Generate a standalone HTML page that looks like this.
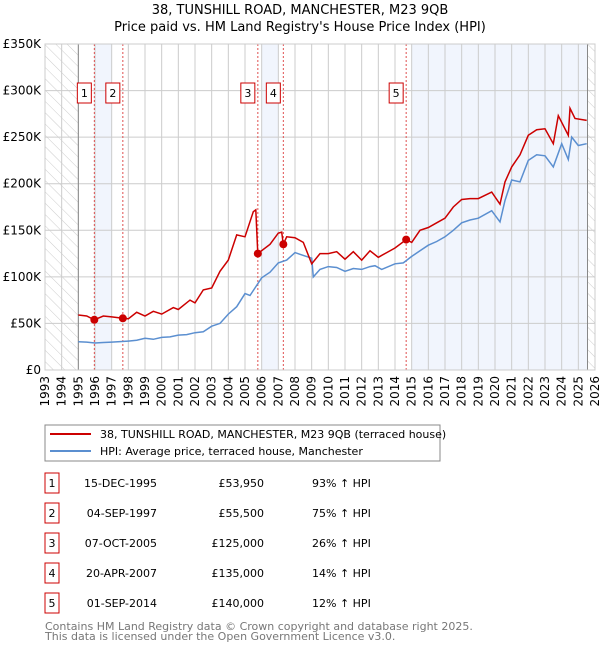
<!DOCTYPE html>
<html><head><meta charset="utf-8">
<style>
body{margin:0;background:#fff;font-family:"DejaVu Sans","Liberation Sans",sans-serif;}
svg text{font-family:"DejaVu Sans","Liberation Sans",sans-serif;}
</style></head>
<body>
<svg id="c" width="600" height="650" xmlns="http://www.w3.org/2000/svg">
<defs>
<pattern id="hatch" width="8" height="8" patternUnits="userSpaceOnUse" patternTransform="rotate(-45)">
<line x1="0" y1="0" x2="0" y2="8" stroke="#ccc" stroke-width="1"/>
</pattern>
</defs>
<text x="300" y="14" text-anchor="middle" font-size="13">38, TUNSHILL ROAD, MANCHESTER, M23 9QB</text>
<text x="300" y="31" text-anchor="middle" font-size="13">Price paid vs. HM Land Registry's House Price Index (HPI)</text>
<g id="plot"></g>
<rect x="45" y="425" width="395" height="36" fill="#fff" stroke="#888"/>
<line x1="50" y1="434" x2="91" y2="434" stroke="#cc0000" stroke-width="2"/>
<text x="100" y="438" font-size="11">38, TUNSHILL ROAD, MANCHESTER, M23 9QB (terraced house)</text>
<line x1="50" y1="451" x2="91" y2="451" stroke="#5b8fd0" stroke-width="2"/>
<text x="100" y="455" font-size="11">HPI: Average price, terraced house, Manchester</text>
<g id="table"></g>
<text x="45" y="630" font-size="11" fill="#777">Contains HM Land Registry data © Crown copyright and database right 2025.</text>
<text x="45" y="640" font-size="11" fill="#777">This data is licensed under the Open Government Licence v3.0.</text>
</svg>
<script>
const hpiYears=[1995,1995.5,1996,1996.5,1997,1997.5,1998,1998.5,1999,1999.5,2000,2000.5,2001,2001.5,2002,2002.5,2003,2003.5,2004,2004.5,2005,2005.3,2006,2006.5,2007,2007.5,2008,2008.5,2009,2009.1,2009.5,2010,2010.5,2011,2011.5,2012,2012.5,2012.8,2013.2,2014,2014.5,2015,2015.5,2016,2016.5,2017,2017.5,2018,2018.5,2019,2019.8,2020.3,2020.6,2021,2021.5,2022,2022.5,2023,2023.5,2024,2024.4,2024.6,2025,2025.5];
const hpiValues=[30.4,30,29,29.5,30,30.5,31,32,34,33,35,35.5,37.5,38,40,41,47,50,60,68,82,80,99,105,115,118,126,123,120,100,108,111,110,106,109,108,111,112,108,114,115,122,128,134,138,143,150,158,161,163,171,159,182,204,202,225,231,230,218,243,226,250,241,243];
const priceYears=[1995,1995.5,1995.96,1996.5,1997,1997.67,1998,1998.5,1999,1999.5,2000,2000.7,2001,2001.7,2002,2002.5,2003,2003.5,2004,2004.5,2005,2005.5,2005.65,2005.77,2006.5,2007,2007.2,2007.3,2007.5,2008,2008.5,2009,2009.5,2010,2010.5,2011,2011.5,2012,2012.5,2013,2013.5,2014,2014.67,2015,2015.5,2016,2016.5,2017,2017.5,2018,2018.5,2019,2019.8,2020.3,2020.6,2021,2021.5,2022,2022.5,2023,2023.5,2023.8,2024.4,2024.5,2024.8,2025.5];
const priceValues=[59,58,53.9,58,57,55.5,55,62,58,63,60,67,65,75,72,86,88,106,118,145,143,170,172,125,135,147,148,135,143,142,137,114,125,125,127,119,127,118,128,121,126,131,140,137,150,153,158,163,175,183,184,184,191,178,202,218,231,252,258,259,243,273,252,281,270,268];
const saleYears=[1995.96,1997.67,2005.77,2007.3,2014.67];
const saleValues=[53.95,55.5,125,135,140];
const saleLabels=["1","2","3","4","5"];
const saleDates=["15-DEC-1995","04-SEP-1997","07-OCT-2005","20-APR-2007","01-SEP-2014"];
const salePrices=["£53,950","£55,500","£125,000","£135,000","£140,000"];
const saleHpi=["93% ↑ HPI","75% ↑ HPI","26% ↑ HPI","14% ↑ HPI","12% ↑ HPI"];
const yTicks=[0,50,100,150,200,250,300,350];
const yTickLabels=["£0","£50K","£100K","£150K","£200K","£250K","£300K","£350K"];
const xTicks=[1993,1994,1995,1996,1997,1998,1999,2000,2001,2002,2003,2004,2005,2006,2007,2008,2009,2010,2011,2012,2013,2014,2015,2016,2017,2018,2019,2020,2021,2022,2023,2024,2025,2026];
const bands=[[1996,1997],[2006,2007],[2015,2025.55]];
const dataEnd=2025.55;

const X0=45,X1=595,Y0=370,Y1=44;
const xs=y=>X0+(y-1993)/(2026-1993)*(X1-X0);
const ys=v=>Y0-v/350*(Y0-Y1);
const NS="http://www.w3.org/2000/svg";
function mk(parent,tag,attrs){const e=document.createElementNS(NS,tag);for(const k in attrs)e.setAttribute(k,attrs[k]);parent.appendChild(e);return e;}
const g=document.getElementById('plot');
let r=mk(g,'rect',{x:X0,y:Y1,width:X1-X0,height:Y0-Y1,fill:'#fff'});


bands.forEach(b=>{const e=mk(g,'rect',{x:xs(b[0]),y:Y1,width:xs(b[1])-xs(b[0]),height:Y0-Y1,fill:'#eef3fc',opacity:0.8});

});
let h1=mk(g,'rect',{x:X0,y:Y1,width:xs(1995)-X0,height:Y0-Y1,fill:'url(#hatch)'});


let h2=mk(g,'rect',{x:xs(dataEnd),y:Y1,width:X1-xs(dataEnd),height:Y0-Y1,fill:'url(#hatch)'});


xTicks.forEach((t,i)=>{const l=mk(g,'line',{x1:xs(t),x2:xs(t),y1:Y1,y2:Y0,stroke:'#ccc','stroke-width':1});


const tx=mk(g,'text',{x:0,y:0,'font-size':12,'text-anchor':'end',transform:`translate(${xs(t)+4},${Y0+6}) rotate(-90)`});
tx.textContent=t;

});
yTicks.forEach((t,i)=>{const l=mk(g,'line',{x1:X0,x2:X1,y1:ys(t),y2:ys(t),stroke:'#ccc','stroke-width':1});


const tx=mk(g,'text',{x:X0-4,y:ys(t)+4,'font-size':12,'text-anchor':'end'});
tx.textContent=yTickLabels[i];

});
[1995,dataEnd].forEach(t=>{const l=mk(g,'line',{x1:xs(t),x2:xs(t),y1:Y1,y2:Y0,stroke:'#888','stroke-width':1});

});
saleYears.forEach((t,i)=>{const l=mk(g,'line',{x1:xs(t),x2:xs(t),y1:Y1,y2:Y0,stroke:'#e05050','stroke-width':1,'stroke-dasharray':'2,2'});

});
const pts=(a,b)=>a.map((y,i)=>xs(y).toFixed(1)+','+ys(b[i]).toFixed(1)).join(' ');
let hp=mk(g,'polyline',{points:pts(hpiYears,hpiValues),fill:'none',stroke:'#5b8fd0','stroke-width':1.5});


let pp=mk(g,'polyline',{points:pts(priceYears,priceValues),fill:'none',stroke:'#cc0000','stroke-width':1.5});


saleYears.forEach((t,i)=>{const c=mk(g,'circle',{cx:xs(t),cy:ys(saleValues[i]),r:4,fill:'#cc0000'});


const bx=mk(g,'rect',{x:xs(t)-17,y:83,width:14,height:20,fill:'#fff',stroke:'#cc0000'});


const tx=mk(g,'text',{x:xs(t)-10,y:97,'font-size':11,'text-anchor':'middle'});
tx.textContent=saleLabels[i];

});
let ax=mk(g,'rect',{x:X0,y:Y1,width:X1-X0,height:Y0-Y1,fill:'none',stroke:'#ccc'});


const tb=document.getElementById('table');
saleLabels.forEach((s,i)=>{const y=483+i*30;
const bx=mk(tb,'rect',{x:45,y:y-10,width:14,height:20,fill:'#fff',stroke:'#cc0000'});


const cells=[[52,s,'middle'],[157,saleDates[i],'end'],[264,salePrices[i],'end'],[312,saleHpi[i],'start']];
cells.forEach(c=>{const tx=mk(tb,'text',{x:c[0],y:y+4,'font-size':11,'text-anchor':c[2]});
tx.textContent=c[1];

});});
</script>
</body></html>
